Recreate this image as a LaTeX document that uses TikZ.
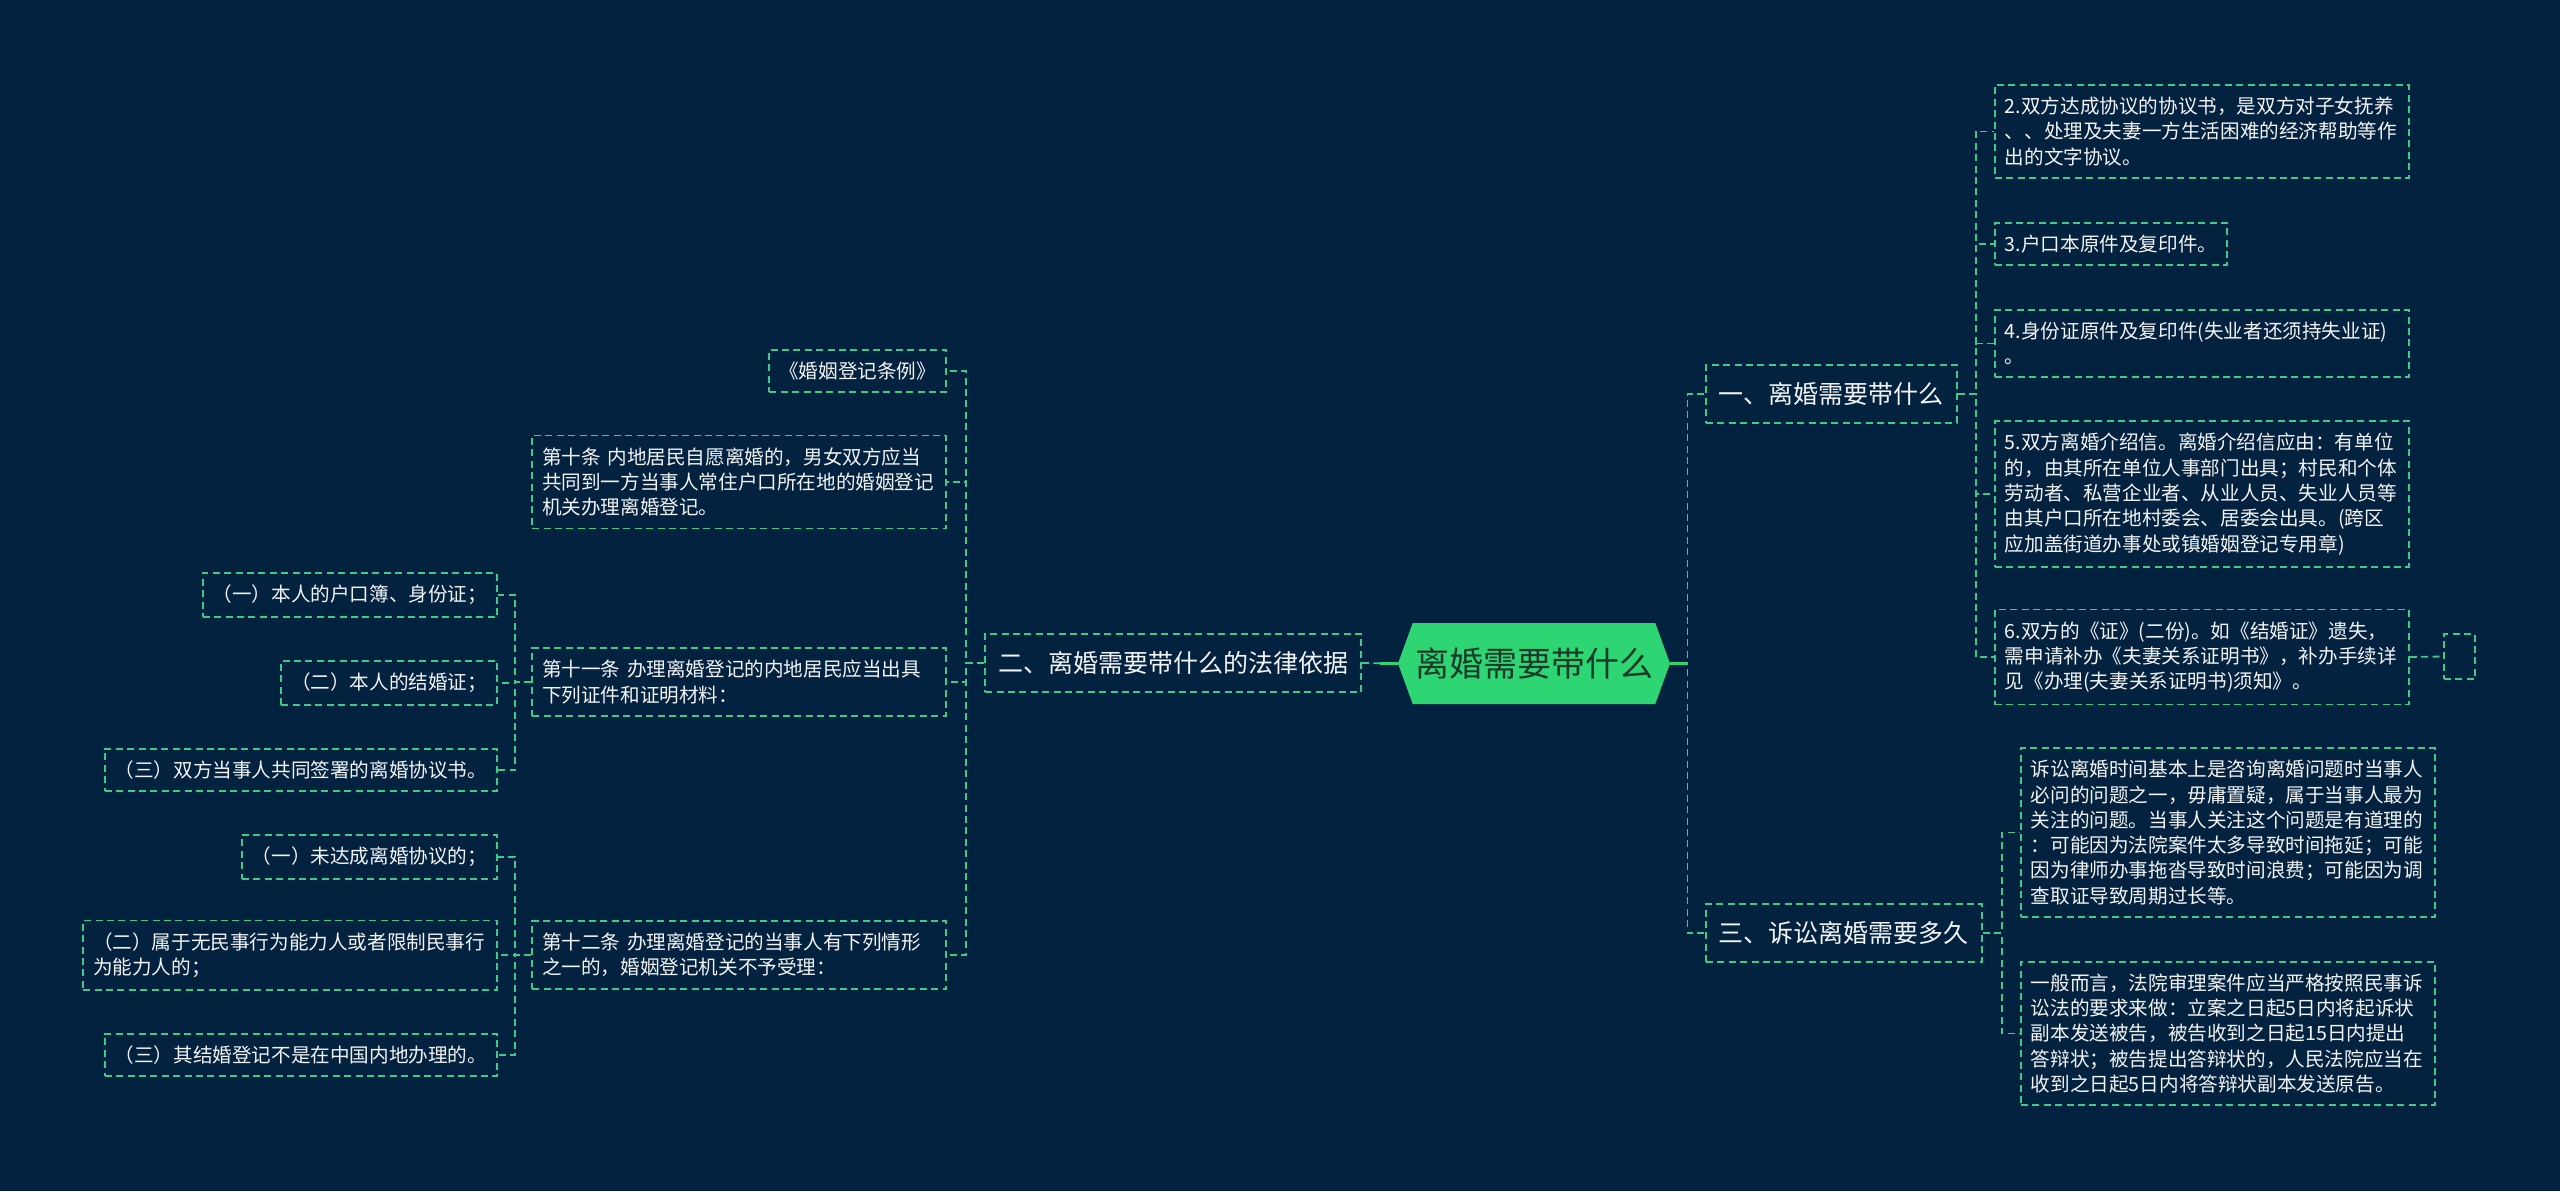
\documentclass[tikz,border=0pt]{standalone}
\usepackage{fontspec}
\newfontfamily\cjk{Noto Sans CJK SC}
\usetikzlibrary{shapes.symbols}
\definecolor{bgc}{HTML}{03223F}
\definecolor{hubc}{HTML}{2ED573}
\definecolor{hubt}{HTML}{1C3A29}
\definecolor{linkc}{HTML}{3DCB85}
\definecolor{txtc}{HTML}{F2F4F5}
\begin{document}
\begin{tikzpicture}[x=0.5pt,y=-0.5pt]
\tikzstyle{box}=[draw=linkc, line width=0.9pt, dash pattern=on 3.5pt off 2.2pt, text=txtc, font=\cjk\fontsize{9.8}{12.65}\selectfont, inner xsep=5pt, inner ysep=6pt]
\tikzstyle{rbox}=[box, anchor=west]
\tikzstyle{lbox}=[box, anchor=east]
\tikzstyle{wide}=[text width=197pt, align=left]
\tikzstyle{branch}=[font=\cjk\fontsize{12.5}{14}\selectfont, inner xsep=6.5pt, inner ysep=0pt, minimum height=29pt]
\tikzstyle{hub}=[shape=signal, signal to=east and west, signal pointer angle=140, fill=hubc, text=hubt, font=\cjk\fontsize{17}{17}\selectfont, minimum width=136pt, minimum height=40.5pt, inner xsep=0pt]
\tikzstyle{link}=[draw=linkc, line width=0.9pt, dash pattern=on 3.5pt off 2.2pt]
\tikzstyle{stem}=[draw=hubc, line width=1.4pt]
\fill[bgc] (0,0) rectangle (2560,1191);
\useasboundingbox (0,0) rectangle (2560,1191);
\draw (1534,663.5) node[hub] (hub) {离婚需要带什么};
\draw (1705,394) node[rbox,branch] (b1) {一、离婚需要带什么};
\draw (1705,933) node[rbox,branch] (b3) {三、诉讼离婚需要多久};
\draw (1362,663) node[lbox,branch] (b2) {二、离婚需要带什么的法律依据};
\draw (1994,131.5) node[rbox,wide] (r2) {2.双方达成协议的协议书，是双方对子女抚养\\、、处理及夫妻一方生活困难的经济帮助等作\\出的文字协议。};
\draw (1994,244) node[rbox] (r3) {3.户口本原件及复印件。};
\draw (1994,343.5) node[rbox,wide] (r4) {4.身份证原件及复印件(失业者还须持失业证)\\。};
\draw (1994,494) node[rbox,wide] (r5) {5.双方离婚介绍信。离婚介绍信应由：有单位\\的，由其所在单位人事部门出具；村民和个体\\劳动者、私营企业者、从业人员、失业人员等\\由其户口所在地村委会、居委会出具。(跨区\\应加盖街道办事处或镇婚姻登记专用章)};
\draw (1994,657) node[rbox,wide] (r6) {6.双方的《证》(二份)。如《结婚证》遗失，\\需申请补办《夫妻关系证明书》，补办手续详\\见《办理(夫妻关系证明书)须知》。};
\draw (2459.5,656.5) node[box, minimum width=15.5pt, minimum height=22.5pt, inner sep=0pt] (r7) {};
\draw (2020,832.5) node[rbox,wide] (s1) {诉讼离婚时间基本上是咨询离婚问题时当事人\\必问的问题之一，毋庸置疑，属于当事人最为\\关注的问题。当事人关注这个问题是有道理的\\：可能因为法院案件太多导致时间拖延；可能\\因为律师办事拖沓导致时间浪费；可能因为调\\查取证导致周期过长等。};
\draw (2020,1033.5) node[rbox,wide] (s2) {一般而言，法院审理案件应当严格按照民事诉\\讼法的要求来做：立案之日起5日内将起诉状\\副本发送被告，被告收到之日起15日内提出\\答辩状；被告提出答辩状的，人民法院应当在\\收到之日起5日内将答辩状副本发送原告。};
\draw (947,371) node[lbox] (l1) {《婚姻登记条例》};
\draw (947,482) node[lbox,wide] (l2) {第十条~内地居民自愿离婚的，男女双方应当\\共同到一方当事人常住户口所在地的婚姻登记\\机关办理离婚登记。};
\draw (947,682) node[lbox,wide] (l3) {第十一条~办理离婚登记的内地居民应当出具\\下列证件和证明材料：};
\draw (947,955) node[lbox,wide] (l4) {第十二条~办理离婚登记的当事人有下列情形\\之一的，婚姻登记机关不予受理：};
\draw (498,595) node[lbox] (l3a) {（一）本人的户口簿、身份证；};
\draw (498,683) node[lbox] (l3b) {（二）本人的结婚证；};
\draw (498,770) node[lbox] (l3c) {（三）双方当事人共同签署的离婚协议书。};
\draw (498,857) node[lbox] (l4a) {（一）未达成离婚协议的；};
\draw (498,955) node[lbox,wide] (l4b) {（二）属于无民事行为能力人或者限制民事行\\为能力人的；};
\draw (498,1055) node[lbox] (l4c) {（三）其结婚登记不是在中国内地办理的。};
\draw[link] (hub.east) -- ++(17,0) |- (b1.west);
\draw[link] (hub.east) -- ++(17,0) |- (b3.west);
\draw[stem] (hub.east) -- ++(17,0);
\draw[link] (b2.east) -- (hub.west);
\draw[stem] (hub.west) -- ++(-18,0);
\draw[link] (b1.east) -- ++(18,0) |- (r2.west);
\draw[link] (b1.east) -- ++(18,0) |- (r3.west);
\draw[link] (b1.east) -- ++(18,0) |- (r4.west);
\draw[link] (b1.east) -- ++(18,0) |- (r5.west);
\draw[link] (b1.east) -- ++(18,0) |- (r6.west);
\draw[link] (r6.east) -- (r7.west);
\draw[link] (b3.east) -- ++(19,0) |- (s1.west);
\draw[link] (b3.east) -- ++(19,0) |- (s2.west);
\draw[link] (b2.west) -- ++(-18,0) |- (l1.east);
\draw[link] (b2.west) -- ++(-18,0) |- (l2.east);
\draw[link] (b2.west) -- ++(-18,0) |- (l3.east);
\draw[link] (b2.west) -- ++(-18,0) |- (l4.east);
\draw[link] (l3.west) -- ++(-16,0) |- (l3a.east);
\draw[link] (l3.west) -- ++(-16,0) |- (l3b.east);
\draw[link] (l3.west) -- ++(-16,0) |- (l3c.east);
\draw[link] (l4.west) -- ++(-16,0) |- (l4a.east);
\draw[link] (l4.west) -- ++(-16,0) |- (l4b.east);
\draw[link] (l4.west) -- ++(-16,0) |- (l4c.east);
\end{tikzpicture}
\end{document}
